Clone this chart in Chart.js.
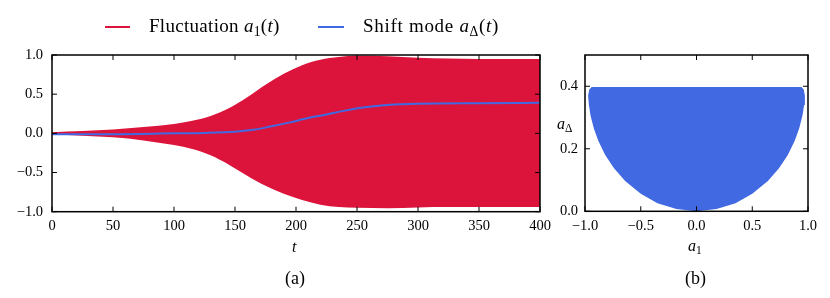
<!DOCTYPE html>
<html><head><meta charset="utf-8">
<script src="https://cdn.jsdelivr.net/npm/chart.js@4/dist/chart.umd.min.js"></script>
<style>
html,body{margin:0;padding:0;background:#fff;}
body{width:830px;height:298px;position:relative;overflow:hidden;font-family:"Liberation Serif","Times New Roman",serif;color:#000;}
canvas{position:absolute;top:0;}
#ca{left:0;}
#cb{left:540px;}
.t{position:absolute;white-space:nowrap;line-height:1;}
.sw{position:absolute;height:2px;}
i{font-style:italic;}
.sub{font-size:72%;position:relative;top:0.28em;}
</style></head><body>
<canvas id="ca" width="560" height="298"></canvas>
<canvas id="cb" width="290" height="298"></canvas>

<div class="sw" style="left:105px;top:26px;width:25px;background:#DC143C"></div>
<div class="t" style="left:149px;top:16px;font-size:19px;letter-spacing:0.3px">Fluctuation <i>a</i><span class="sub">1</span>(<i>t</i>)</div>
<div class="sw" style="left:318px;top:26px;width:26px;background:#4169E1"></div>
<div class="t" style="left:363px;top:16px;font-size:19px;letter-spacing:0.7px">Shift mode <i>a</i><span class="sub">Δ</span>(<i>t</i>)</div>

<div class="t" style="left:292px;top:239px;font-size:16px"><i>t</i></div>
<div class="t" style="left:285px;top:269px;font-size:18px">(a)</div>
<div class="t" style="left:688px;top:238px;font-size:16px"><i>a</i><span class="sub">1</span></div>
<div class="t" style="left:685px;top:269px;font-size:18px">(b)</div>
<div class="t" style="left:557px;top:116px;font-size:16px"><i>a</i><span class="sub">Δ</span></div>

<script>
// ---- Panel (a): fluctuation envelope and shift mode ----
const tEnv   = [0, 25, 50, 75, 100, 115, 130, 145, 160, 175, 190, 205, 220, 235, 250, 275, 300, 325, 350, 400];
const upper  = [0.015, 0.03, 0.05, 0.08, 0.12, 0.16, 0.22, 0.32, 0.46, 0.62, 0.76, 0.87, 0.94, 0.975, 0.99, 0.985, 0.965, 0.955, 0.95, 0.95];
const lower  = [-0.015, -0.03, -0.05, -0.09, -0.15, -0.20, -0.28, -0.40, -0.54, -0.67, -0.77, -0.85, -0.91, -0.94, -0.95, -0.955, -0.945, -0.94, -0.94, -0.94];
const tShift = [0, 50, 100, 125, 150, 165, 180, 195, 210, 225, 240, 255, 270, 285, 300, 350, 400];
const shift  = [-0.01, -0.01, 0.0, 0.005, 0.02, 0.045, 0.09, 0.14, 0.195, 0.24, 0.29, 0.33, 0.355, 0.37, 0.377, 0.385, 0.39];
const xTicksA = [0, 50, 100, 150, 200, 250, 300, 350, 400];
const yTicksA = [-1.0, -0.5, 0.0, 0.5, 1.0];

// ---- Panel (b): phase portrait region (a1, aΔ) ----
const a1Edge = [-0.94, -0.962, -0.972, -0.965, -0.95, -0.92, -0.88, -0.82, -0.74, -0.64, -0.5, -0.35, -0.18, 0, 0.18, 0.35, 0.5, 0.64, 0.74, 0.82, 0.88, 0.92, 0.95, 0.965, 0.972, 0.962, 0.94];
const aDEdge = [0.398, 0.39, 0.37, 0.34, 0.306, 0.264, 0.225, 0.181, 0.138, 0.097, 0.056, 0.026, 0.007, 0, 0.007, 0.026, 0.056, 0.097, 0.138, 0.181, 0.225, 0.264, 0.306, 0.34, 0.37, 0.39, 0.398];
const xTicksB = [-1.0, -0.5, 0.0, 0.5, 1.0];
const yTicksB = [0.0, 0.2, 0.4];

const RED = '#DC143C', BLUE = '#4169E1';
const FONT = {family: '"Liberation Serif","Times New Roman",serif', size: 14.5};
const fmt = d => v => (v < 0 ? '\u2212' : '') + Math.abs(v).toFixed(d);
const pts = (xs, ys) => xs.map((x, i) => ({x, y: ys[i]}));

const frameTicks = {
  id: 'frameTicks',
  afterDraw(chart) {
    const {ctx, chartArea: a, scales} = chart;
    const L = 5;
    ctx.save();
    ctx.strokeStyle = '#000';
    ctx.lineWidth = 1;
    ctx.beginPath();
    scales.x.ticks.forEach(t => {
      const p = scales.x.getPixelForValue(t.value);
      ctx.moveTo(p, a.bottom); ctx.lineTo(p, a.bottom - L);
      ctx.moveTo(p, a.top); ctx.lineTo(p, a.top + L);
    });
    scales.y.ticks.forEach(t => {
      const p = scales.y.getPixelForValue(t.value);
      ctx.moveTo(a.left, p); ctx.lineTo(a.left + L, p);
      ctx.moveTo(a.right, p); ctx.lineTo(a.right - L, p);
    });
    ctx.stroke();
    ctx.lineWidth = 1.5;
    ctx.strokeRect(a.left, a.top, a.right - a.left, a.bottom - a.top);
    ctx.restore();
  }
};

function axis(min, max, ticksArr, pad, dec, fit) {
  return {
    type: 'linear', min, max,
    afterBuildTicks: s => { s.ticks = ticksArr.map(v => ({value: v})); },
    ticks: {font: FONT, color: '#000', padding: pad, callback: fmt(dec), maxRotation: 0, autoSkip: false},
    grid: {display: false, drawTicks: false},
    border: {display: false},
    afterFit: fit
  };
}

new Chart(document.getElementById('ca'), {
  type: 'line',
  data: {
    datasets: [
      {label: 'Shift mode', data: pts(tShift, shift), borderColor: BLUE, borderWidth: 2, pointRadius: 0, fill: false, cubicInterpolationMode: 'monotone', order: 0},
      {label: 'Fluctuation', data: pts(tEnv, upper), borderWidth: 0, borderColor: RED, backgroundColor: RED, pointRadius: 0, fill: '+1', cubicInterpolationMode: 'monotone', order: 1},
      {label: 'lower', data: pts(tEnv, lower), borderWidth: 0, borderColor: RED, backgroundColor: RED, pointRadius: 0, fill: false, cubicInterpolationMode: 'monotone', order: 2}
    ]
  },
  options: {
    responsive: false, animation: false, parsing: false,
    layout: {padding: {left: 0, right: 20, top: 55, bottom: 56.3}},
    plugins: {legend: {display: false}, tooltip: {enabled: false}},
    scales: {
      x: axis(0, 400, xTicksA, 6, 0, s => { s.height = 30; }),
      y: axis(-1, 1, yTicksA, 9, 1, s => { s.width = 52; })
    }
  },
  plugins: [frameTicks]
});

new Chart(document.getElementById('cb'), {
  type: 'scatter',
  data: {
    datasets: [
      {label: 'Region', data: pts(a1Edge, aDEdge), showLine: true, borderWidth: 0, borderColor: BLUE, backgroundColor: BLUE, pointRadius: 0, fill: 'shape'}
    ]
  },
  options: {
    responsive: false, animation: false, parsing: false,
    layout: {padding: {left: 0, right: 22, top: 55, bottom: 56.7}},
    plugins: {legend: {display: false}, tooltip: {enabled: false}},
    scales: {
      x: axis(-1, 1, xTicksB, 6, 1, s => { s.height = 30; }),
      y: axis(0, 0.5, yTicksB, 7, 1, s => { s.width = 45; })
    }
  },
  plugins: [frameTicks]
});
</script>
</body></html>
